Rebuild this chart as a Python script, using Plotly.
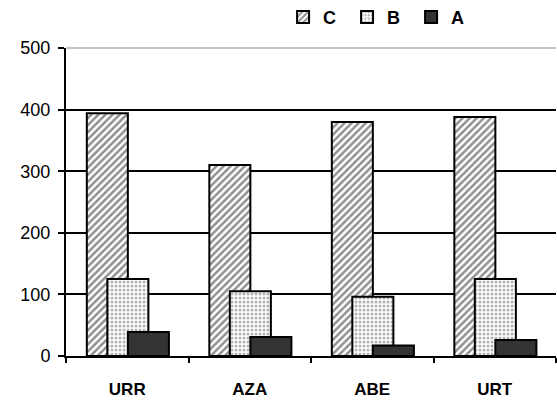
import plotly.graph_objects as go

categories = ["URR", "AZA", "ABE", "URT"]
series_names = ["C", "B", "A"]
values_C = [394, 310, 380, 388]
values_B = [125, 105, 96, 125]
values_A = [39, 31, 17, 26]
y_ticks = [0, 100, 200, 300, 400, 500]

FONT = "Arial, 'Liberation Sans', sans-serif"

fig = go.Figure()

bar_w = 0.335
offsets = [-0.33, -0.1625, 0.005]
styles = [
    dict(color="white", pattern=dict(shape="/", fgcolor="#222222", bgcolor="white", size=5, solidity=0.5, fillmode="overlay")),
    dict(color="white", pattern=dict(shape=".", fgcolor="#666666", bgcolor="white", size=4, solidity=0.45, fillmode="overlay")),
    dict(color="#333333"),
]
for name, vals, off, st in zip(series_names, [values_C, values_B, values_A], offsets, styles):
    fig.add_trace(go.Bar(
        x=categories, y=vals, name=name,
        width=bar_w, offset=off,
        marker=dict(line=dict(color="black", width=2), **st),
    ))

fig.update_layout(
    width=557, height=400,
    barmode="overlay",
    plot_bgcolor="white", paper_bgcolor="white",
    margin=dict(l=66, r=1, t=48, b=44, autoexpand=False),
    font=dict(family=FONT, size=18, color="black"),
    showlegend=True,
    legend=dict(orientation="h", x=0.443, y=1.1, xanchor="left", yanchor="middle",
                font=dict(family=FONT, size=18, color="black", weight="bold"),
                itemwidth=30, entrywidth=19, bgcolor="rgba(0,0,0,0)", tracegroupgap=0),
    xaxis=dict(
        showline=True, linecolor="black", linewidth=2,
        ticks="outside", tickson="boundaries", ticklen=5, tickwidth=1.5, tickcolor="black",
        tickfont=dict(family=FONT, size=17, color="black", weight="bold"),
        ticklabelstandoff=17,
        showgrid=False, range=[-0.5, 3.5],
    ),
    yaxis=dict(
        range=[0, 500], tickvals=y_ticks,
        showline=True, linecolor="black", linewidth=2,
        ticks="outside", ticklen=6, tickwidth=2, tickcolor="black",
        tickfont=dict(family=FONT, size=18, color="black"),
        ticklabelstandoff=4,
        showgrid=True, gridcolor="black", gridwidth=2,
        zeroline=False,
    ),
    shapes=[dict(type="line", xref="x domain", yref="y domain", x0=0, x1=1, y0=1, y1=1,
                 line=dict(color="#c4c4c4", width=2), layer="above")],
)

fig.write_html("out.html", config={"displayModeBar": False},
               post_script="document.body.style.margin='0';document.body.style.overflow='hidden';")
